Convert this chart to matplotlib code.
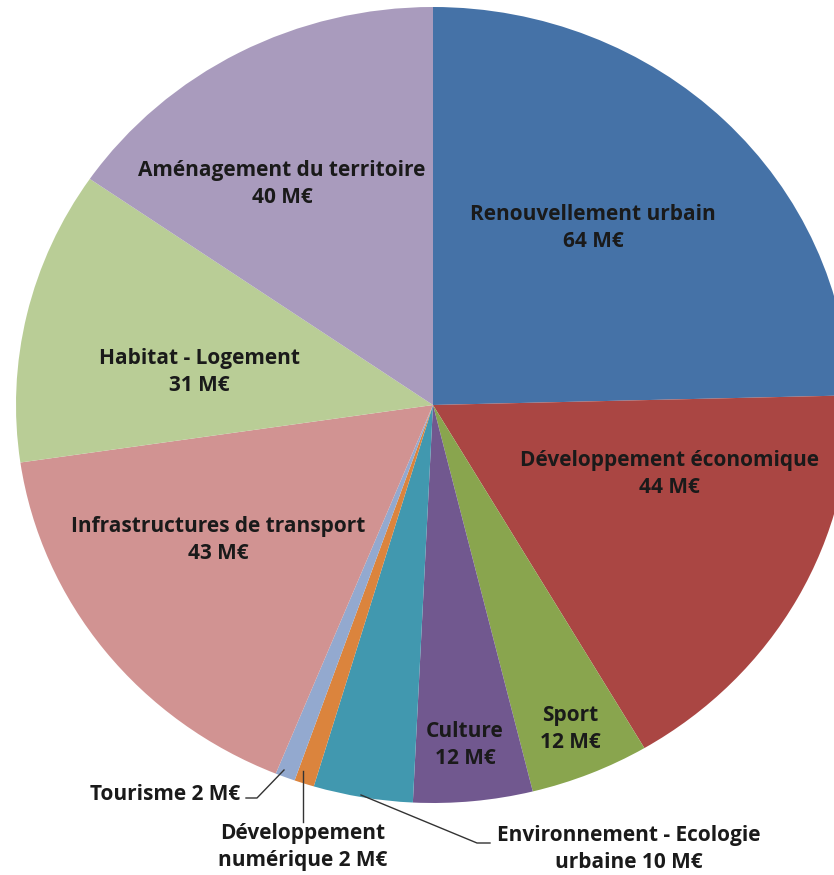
import matplotlib
matplotlib.use("Agg")
import matplotlib.pyplot as plt
import numpy as np

# Data (M€), clockwise from 12 o'clock
categories = ["Renouvellement urbain", "Développement économique", "Sport", "Culture",
              "Environnement - Ecologie urbaine", "Développement numérique", "Tourisme",
              "Infrastructures de transport", "Habitat - Logement", "Aménagement du territoire"]
values = [64, 44, 12, 12, 10, 2, 2, 43, 31, 40]
label_texts = ["Renouvellement urbain\n64 M€", "Développement économique\n44 M€",
               "Sport\n12 M€", "Culture\n12 M€", "Environnement - Ecologie\nurbaine 10 M€",
               "Développement\nnumérique 2 M€", "Tourisme 2 M€",
               "Infrastructures de transport\n43 M€", "Habitat - Logement\n31 M€",
               "Aménagement du territoire\n40 M€"]
colors = ["#4572A7", "#AA4643", "#89A54E", "#71588F", "#4198AF",
          "#DB843D", "#93A9CF", "#D19392", "#B9CD96", "#A99BBD"]

# pie geometry in pixels (slightly stretched horizontally, like the source)
W, H = 834, 875
cx, cy, rx, ry = 433, 405, 417, 398

def to_data(px, py):
    return (px - cx) / rx, (cy - py) / ry

# label centres in pixels
label_px = [(593, 228), (669, 474), (570, 729), (465, 745), (629, 849),
            (303, 847), (165, 794), (218, 540), (199, 372), (282, 184)]

fig = plt.figure(figsize=(W / 100, H / 100), dpi=100)
ax = fig.add_axes([0, 0, 1, 1])
ax.pie(values, colors=colors, startangle=90, counterclock=False,
       wedgeprops=dict(linewidth=0))
ax.set_aspect('auto')
ax.set_xlim(-cx / rx, (W - cx) / rx)
ax.set_ylim(-(H - cy) / ry, cy / ry)
ax.axis('off')

font = dict(family=["Open Sans", "DejaVu Sans"], fontsize=15, fontweight='bold',
            color='#1a1a1a', linespacing=1.38)

for txt, (px, py) in zip(label_texts, label_px):
    x, y = to_data(px, py)
    ax.text(x, y, txt, ha='center', va='center', **font)

# leader lines for the small slices
leaders = [
    [(246, 798), (257, 798), (284, 770)],   # Tourisme
    [(303, 771), (303, 822)],               # Développement numérique
    [(361, 795), (477, 843), (490, 843)],   # Environnement
]
for pts in leaders:
    xs, ys = zip(*[to_data(px, py) for px, py in pts])
    ax.plot(xs, ys, color='#333333', linewidth=1.0)

fig.savefig("out.png", dpi=100)
